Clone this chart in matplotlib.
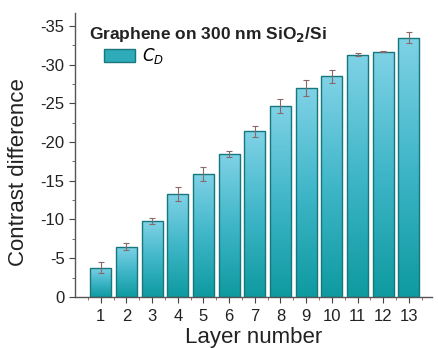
import numpy as np
import matplotlib.pyplot as plt
from matplotlib.colors import LinearSegmentedColormap
from matplotlib.patches import Patch

plt.rcParams['font.family'] = ['Liberation Sans', 'DejaVu Sans']

layers = list(range(1, 14))
contrast = [-3.75, -6.5, -9.8, -13.3, -15.9, -18.5, -21.4, -24.7, -27.0, -28.5, -31.3, -31.7, -33.5]
errors = [0.7, 0.5, 0.4, 0.9, 0.9, 0.4, 0.7, 0.9, 1.0, 0.8, 0.2, 0.05, 0.7]

cmap = LinearSegmentedColormap.from_list("bar", ["#0e9aa0", "#3fb6c8", "#80d2e6"])

fig = plt.figure(figsize=(4.39, 3.48), dpi=100)
ax = fig.add_axes([0.171, 0.147, 0.813, 0.816])

bars = ax.bar(layers, contrast, width=0.82, color='none', edgecolor='#16777d', linewidth=1.0, zorder=3)
grad = np.linspace(0, 1, 256).reshape(-1, 1)
for b, v in zip(bars, contrast):
    x0 = b.get_x()
    im = ax.imshow(grad, cmap=cmap, origin='lower', aspect='auto',
                   extent=(x0, x0 + b.get_width(), 0, v), zorder=2)
    im.set_clip_path(b)

ax.errorbar(layers, contrast, yerr=errors, fmt='none', ecolor='#8a6868',
            elinewidth=0.8, capsize=2, capthick=0.8, zorder=4)

ax.set_xlim(0, 13.9)
ax.set_ylim(0, -36.7)
ax.set_xticks(layers)
ax.set_xticks(np.arange(0.5, 14, 1), minor=True)
ax.set_yticks(np.arange(0, -36, -5))
ax.set_yticks(np.arange(-2.5, -36, -5), minor=True)
ax.set_yticklabels([str(int(t)) for t in np.arange(0, -36, -5)])

for s in ['top', 'right']:
    ax.spines[s].set_visible(False)
for s in ['left', 'bottom']:
    ax.spines[s].set_color('#555555')
    ax.spines[s].set_linewidth(1.0)
ax.tick_params(axis='both', which='major', direction='out', length=4, labelsize=12, colors='#444444', labelcolor='#222222')
ax.tick_params(axis='x', which='major', pad=5)
ax.tick_params(axis='both', which='minor', direction='out', length=2.5, colors='#555555')
ax.tick_params(axis='x', which='minor', colors='#a05050')

ax.set_xlabel('Layer number', fontsize=16, labelpad=2, color='#222222')
ax.set_ylabel('Contrast difference', fontsize=16, color='#222222')
ax.yaxis.set_label_coords(-0.13, 0.44)

ax.text(0.55, -33.9, 'Graphene on 300 nm SiO$_\\mathbf{2}$/Si', fontsize=12.5, fontweight='bold',
        color='#222222', va='center')
leg = ax.legend([Patch(facecolor='#2eaab8', edgecolor='#16777d')], ['$C_D$'],
                loc='upper left', bbox_to_anchor=(0.038, 0.935), frameon=False,
                fontsize=12, handlelength=1.9, handleheight=0.8, handletextpad=0.4)

fig.savefig('out.png', dpi=100)
